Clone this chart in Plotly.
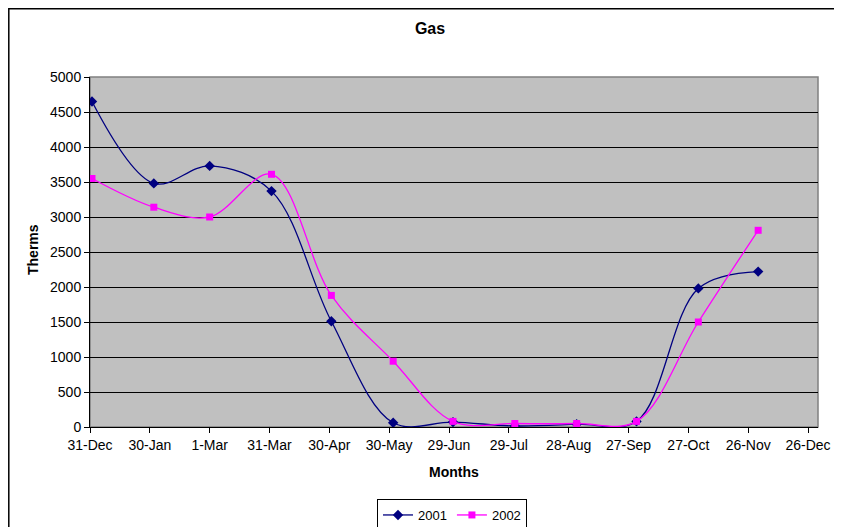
import plotly.graph_objects as go

# Data (monthly readings, plotted on a one-year date axis)
months = ['2001-01-01', '2001-02-01', '2001-03-01', '2001-04-01', '2001-05-01', '2001-06-01',
          '2001-07-01', '2001-08-01', '2001-09-01', '2001-10-01', '2001-11-01', '2001-12-01']
therms_2001 = [4650, 3480, 3730, 3370, 1510, 60, 70, 15, 40, 80, 1980, 2220]
therms_2002 = [3550, 3140, 3000, 3610, 1880, 940, 80, 50, 50, 80, 1500, 2810]

# page puts the figure 8px in from the top-left, so work in shifted pixels
OFF = 8
W, H = 842 - OFF, 527 - OFF
L, R, T, B = 90 - OFF, 818 - OFF, 77 - OFF, 427 - OFF   # plot area
pw, ph = R - L, B - T

def px(x):
    return (x - OFF - L) / pw

def py(y):
    return (B - (y - OFF)) / ph

FONT = 'Liberation Sans, Arial, sans-serif'

fig = go.Figure()

fig.add_trace(go.Scatter(
    x=months, y=therms_2001, name='2001', mode='lines+markers',
    line=dict(color='#000080', width=1.3, shape='spline', smoothing=1),
    marker=dict(symbol='diamond', size=8, color='#000080')
))
fig.add_trace(go.Scatter(
    x=months, y=therms_2002, name='2002', mode='lines+markers',
    line=dict(color='#FF00FF', width=1.3, shape='spline', smoothing=1),
    marker=dict(symbol='square', size=7, color='#FF00FF')
))

fig.update_layout(
    width=W, height=H,
    margin=dict(l=L, r=W - R, t=T, b=H - B, autoexpand=False),
    paper_bgcolor='white',
    plot_bgcolor='#C0C0C0',
    font=dict(family=FONT, size=14, color='black'),
    title=dict(text='<b>Gas</b>', x=(430 - OFF) / W, xanchor='center', xref='container',
               y=1 - (28 - OFF) / H, yanchor='middle', yref='container',
               font=dict(size=16, family=FONT)),
    showlegend=True,
    legend=dict(orientation='h', x=px(452), xanchor='center', y=py(499), yanchor='top',
                bordercolor='black', borderwidth=1, bgcolor='white',
                font=dict(size=13, family=FONT), itemwidth=30,
                tracegroupgap=0),
    xaxis=dict(
        type='date', range=['2000-12-31', '2001-12-31'],
        tick0='2000-12-31', dtick=30 * 86400000, tickformat='%-d-%b',
        showgrid=False, showline=True, linecolor='black', linewidth=1,
        ticks='outside', ticklen=5, tickcolor='black', zeroline=False,
        fixedrange=True
    ),
    yaxis=dict(
        range=[0, 5000], dtick=500, tick0=0,
        showgrid=True, gridcolor='black', gridwidth=1,
        showline=True, linecolor='black', linewidth=1,
        ticks='outside', ticklen=5, tickcolor='black', zeroline=False,
        fixedrange=True
    ),
    shapes=[
        # plot area border
        dict(type='rect', xref='paper', yref='paper', x0=0, x1=1, y0=0, y1=1,
             line=dict(color='#808080', width=1.5), layer='below'),
        # chart outer border (runs off the right/bottom of the image)
        dict(type='rect', xref='paper', yref='paper',
             x0=-(L - 0.8) / pw, x1=px(860), y0=py(540), y1=1 + (T - 0.8) / ph,
             line=dict(color='black', width=1.5)),
    ],
    annotations=[
        dict(text='<b>Therms</b>', xref='paper', yref='paper', x=px(33), y=py(250),
             textangle=-90, showarrow=False, xanchor='center', yanchor='middle',
             font=dict(size=14, family=FONT)),
        dict(text='<b>Months</b>', xref='paper', yref='paper', x=px(454), y=py(472),
             showarrow=False, xanchor='center', yanchor='middle',
             font=dict(size=14, family=FONT)),
    ]
)

fig.write_html('out.html')
